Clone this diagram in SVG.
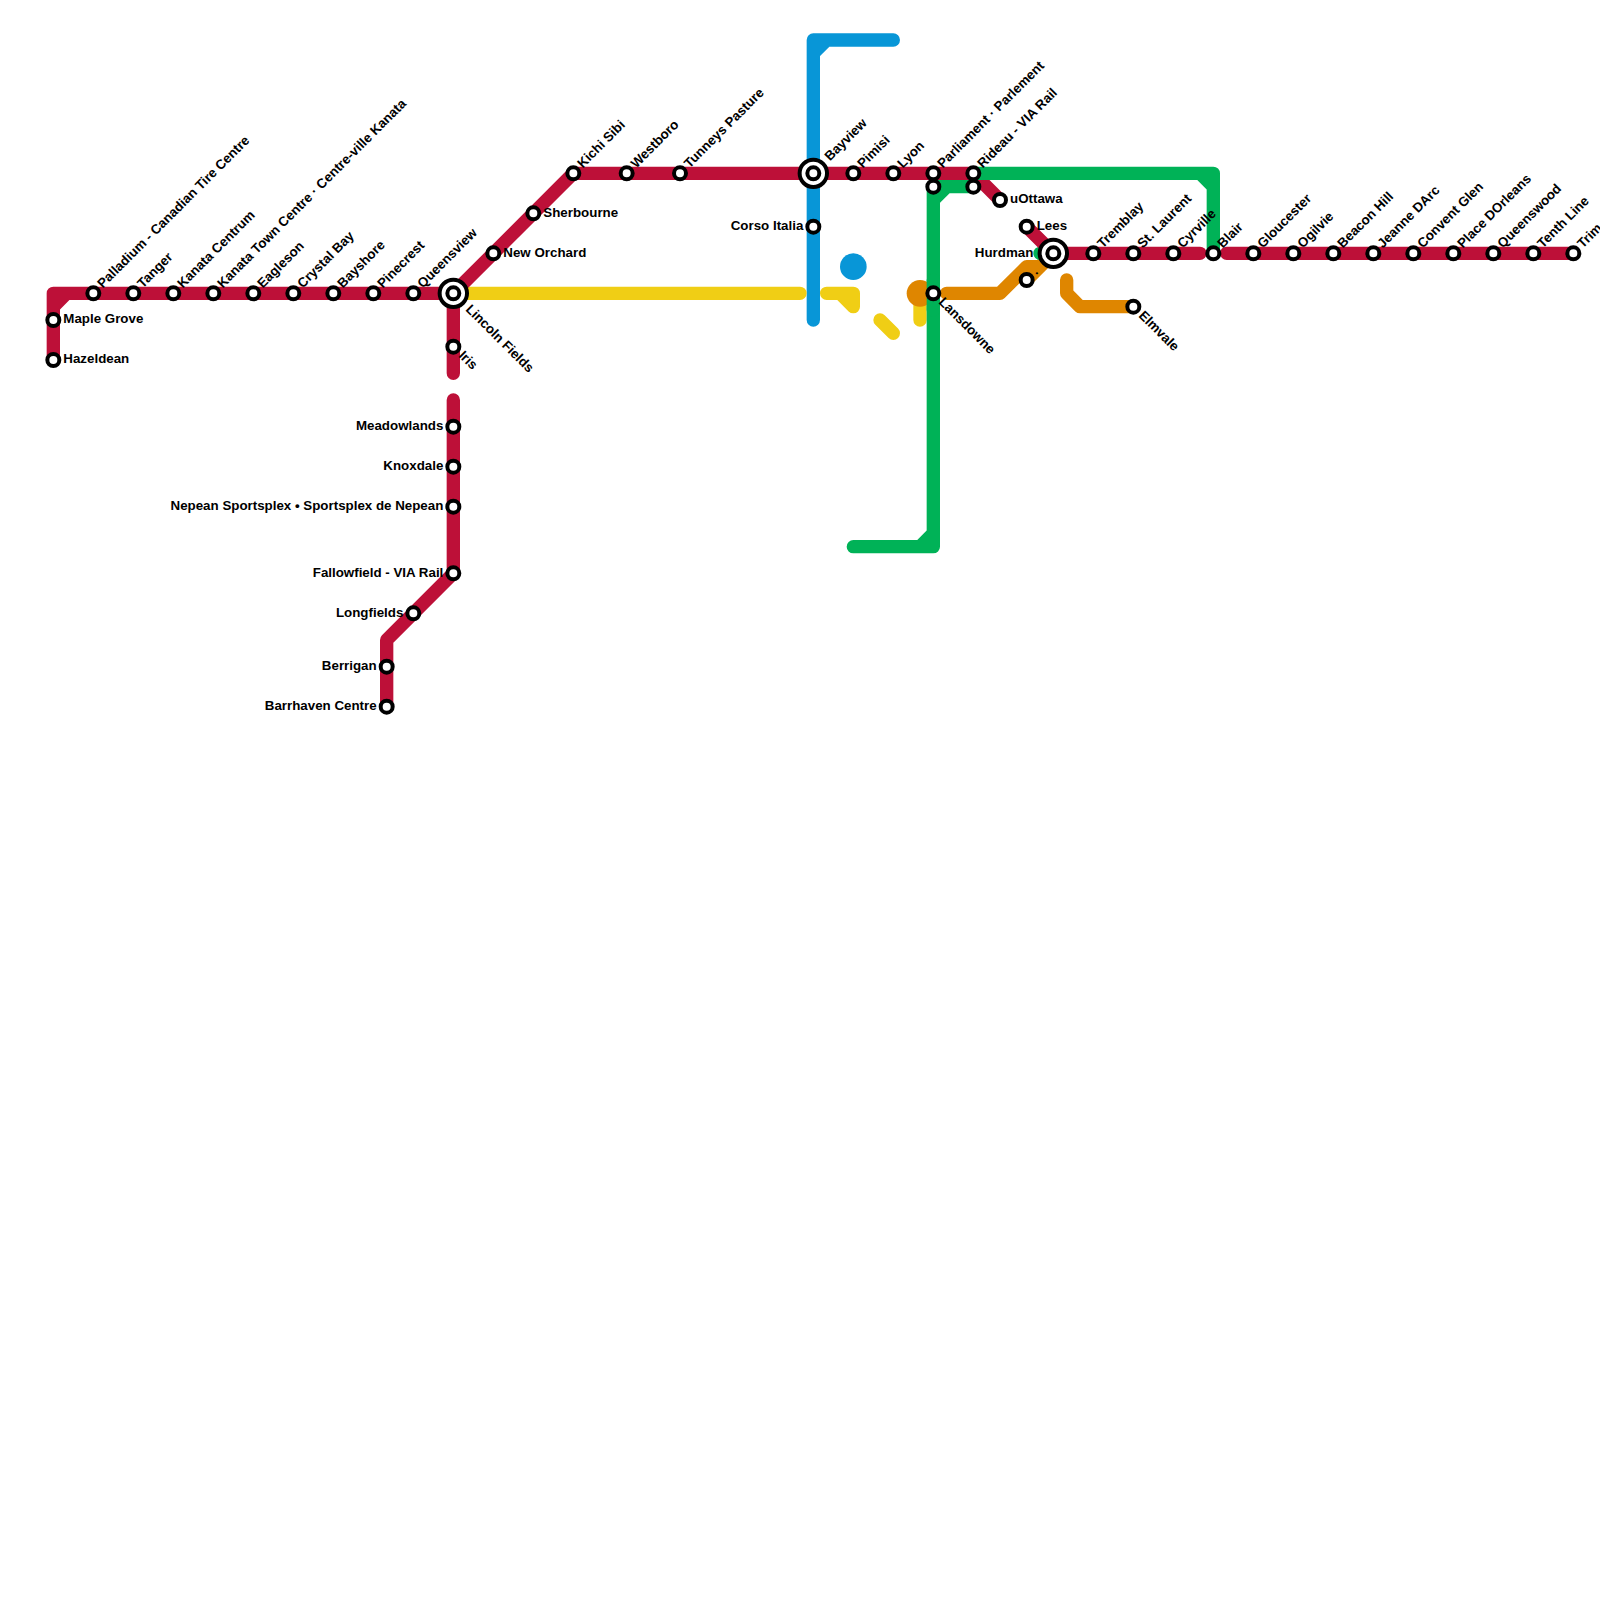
<svg xmlns="http://www.w3.org/2000/svg" width="1600" height="1600" viewBox="0 0 1600 1600">
<style>
.l{fill:none;stroke-width:13.33;stroke-linecap:round;stroke-linejoin:round}
.red{stroke:#bd1038}.green{stroke:#00b257}.blue{stroke:#0896d7}.yellow{stroke:#f0ce15}.orange{stroke:#df8600}
.s{fill:#fff;stroke:#000;stroke-width:4}
text{font-family:"Liberation Sans",Arial,sans-serif;font-weight:bold;font-size:13.33px;fill:#000}
.u{transform:rotate(-45deg)}.d{transform:rotate(45deg)}.e{text-anchor:end}
</style>
<rect width="1600" height="1600" fill="#fff"/>
<g id="connectors">
<path class="l blue" d="M813.33 320V40H893.33M826.67 40L813.33 53.33"/>
<path class="l yellow" d="M453.33 293.33H800M826.67 293.33H853.33V306.67M840 293.33L853.33 306.67M880 320L893.33 333.33M920 293.33V320"/>
<path class="l orange" d="M946.67 293.33H1000L1026.67 266.67H1040M1053.33 253.33L1026.67 280M1066.67 280V293.33L1080 306.67H1133.33"/>
<path class="l red" d="M973.33 173.33L1000 200"/>
<path class="l green" d="M973.33 173.33H1213.33V253.33M1200 173.33L1213.33 186.67M973.33 186.67H933.33V546.67H853.33M946.67 186.67L933.33 200M933.33 533.33L920 546.67M1040 253.33H1053.33"/>
<path class="l red" d="M53.33 360V293.33H453.33L573.33 173.33H973.33M66.67 293.33L53.33 306.67M453.33 293.33V373.33M453.33 400V573.33L386.67 640V706.67M1026.67 226.67L1053.33 253.33H1200M1226.67 253.33H1573.33"/>
<circle cx="853.33" cy="266.67" r="13.33" fill="#0896d7"/>
<circle cx="920" cy="293.33" r="13.33" fill="#df8600"/>
<path class="l green" d="M933.33 280V310"/>
</g>
<g id="hazeldean" transform="translate(53.33,360)"><circle class="s" r="6"/><text x="10" y="3.4">Hazeldean</text></g>
<g id="maple-grove" transform="translate(53.33,320)"><circle class="s" r="6"/><text x="10" y="3.4">Maple Grove</text></g>
<g id="palladium" transform="translate(93.33,293.33)"><circle class="s" r="6"/><text class="u" x="10" y="3.4">Palladium - Canadian Tire Centre</text></g>
<g id="tanger" transform="translate(133.33,293.33)"><circle class="s" r="6"/><text class="u" x="10" y="3.4">Tanger</text></g>
<g id="kanata-centrum" transform="translate(173.33,293.33)"><circle class="s" r="6"/><text class="u" x="10" y="3.4">Kanata Centrum</text></g>
<g id="kanata-town-centre" transform="translate(213.33,293.33)"><circle class="s" r="6"/><text class="u" x="10" y="3.4">Kanata Town Centre · Centre-ville Kanata</text></g>
<g id="eagleson" transform="translate(253.33,293.33)"><circle class="s" r="6"/><text class="u" x="10" y="3.4">Eagleson</text></g>
<g id="crystal-bay" transform="translate(293.33,293.33)"><circle class="s" r="6"/><text class="u" x="10" y="3.4">Crystal Bay</text></g>
<g id="bayshore" transform="translate(333.33,293.33)"><circle class="s" r="6"/><text class="u" x="10" y="3.4">Bayshore</text></g>
<g id="pinecrest" transform="translate(373.33,293.33)"><circle class="s" r="6"/><text class="u" x="10" y="3.4">Pinecrest</text></g>
<g id="queensview" transform="translate(413.33,293.33)"><circle class="s" r="6"/><text class="u" x="10" y="3.4">Queensview</text></g>
<g id="lincoln-fields" transform="translate(453.33,293.33)"><circle class="s" r="13.7"/><circle class="s" r="6"/><text class="d" x="20" y="3.4">Lincoln Fields</text></g>
<g id="iris" transform="translate(453.33,346.67)"><circle class="s" r="6"/><text class="d" x="10" y="3.4">Iris</text></g>
<g id="meadowlands" transform="translate(453.33,426.67)"><circle class="s" r="6"/><text class="e" x="-10" y="3.4">Meadowlands</text></g>
<g id="knoxdale" transform="translate(453.33,466.67)"><circle class="s" r="6"/><text class="e" x="-10" y="3.4">Knoxdale</text></g>
<g id="nepean-sportsplex" transform="translate(453.33,506.67)"><circle class="s" r="6"/><text class="e" x="-10" y="3.4">Nepean Sportsplex • Sportsplex de Nepean</text></g>
<g id="fallowfield" transform="translate(453.33,573.33)"><circle class="s" r="6"/><text class="e" x="-10" y="3.4">Fallowfield - VIA Rail</text></g>
<g id="longfields" transform="translate(413.33,613.33)"><circle class="s" r="6"/><text class="e" x="-10" y="3.4">Longfields</text></g>
<g id="berrigan" transform="translate(386.67,666.67)"><circle class="s" r="6"/><text class="e" x="-10" y="3.4">Berrigan</text></g>
<g id="barrhaven-centre" transform="translate(386.67,706.67)"><circle class="s" r="6"/><text class="e" x="-10" y="3.4">Barrhaven Centre</text></g>
<g id="new-orchard" transform="translate(493.33,253.33)"><circle class="s" r="6"/><text x="10" y="3.4">New Orchard</text></g>
<g id="sherbourne" transform="translate(533.33,213.33)"><circle class="s" r="6"/><text x="10" y="3.4">Sherbourne</text></g>
<g id="kichi-sibi" transform="translate(573.33,173.33)"><circle class="s" r="6"/><text class="u" x="10" y="3.4">Kichi Sibi</text></g>
<g id="westboro" transform="translate(626.67,173.33)"><circle class="s" r="6"/><text class="u" x="10" y="3.4">Westboro</text></g>
<g id="tunneys-pasture" transform="translate(680,173.33)"><circle class="s" r="6"/><text class="u" x="10" y="3.4">Tunneys Pasture</text></g>
<g id="bayview" transform="translate(813.33,173.33)"><circle class="s" r="13.7"/><circle class="s" r="6"/><text class="u" x="20" y="3.4">Bayview</text></g>
<g id="corso-italia" transform="translate(813.33,226.67)"><circle class="s" r="6"/><text class="e" x="-10" y="3.4">Corso Italia</text></g>
<g id="pimisi" transform="translate(853.33,173.33)"><circle class="s" r="6"/><text class="u" x="10" y="3.4">Pimisi</text></g>
<g id="lyon" transform="translate(893.33,173.33)"><circle class="s" r="6"/><text class="u" x="10" y="3.4">Lyon</text></g>
<g id="parliament" transform="translate(933.33,173.33)"><circle class="s" r="6"/><text class="u" x="10" y="3.4">Parliament · Parlement</text></g>
<g id="parliament-2" transform="translate(933.33,186.67)"><circle class="s" r="6"/></g>
<g id="rideau" transform="translate(973.33,173.33)"><circle class="s" r="6"/><text class="u" x="10" y="3.4">Rideau - VIA Rail</text></g>
<g id="rideau-2" transform="translate(973.33,186.67)"><circle class="s" r="6"/></g>
<g id="uottawa" transform="translate(1000,200)"><circle class="s" r="6"/><text x="10" y="3.4">uOttawa</text></g>
<g id="lees" transform="translate(1026.67,226.67)"><circle class="s" r="6"/><text x="10" y="3.4">Lees</text></g>
<g id="dot-station" transform="translate(1026.67,280)"><circle class="s" r="6"/><text class="u" x="10" y="3.4">.</text></g>
<g id="lansdowne" transform="translate(933.33,293.33)"><circle class="s" r="6"/><text class="d" x="10" y="3.4">Lansdowne</text></g>
<g id="hurdman" transform="translate(1053.33,253.33)"><circle class="s" r="13.7"/><circle class="s" r="6"/><text class="e" x="-20" y="3.4">Hurdman</text></g>
<g id="elmvale" transform="translate(1133.33,306.67)"><circle class="s" r="6"/><text class="d" x="10" y="3.4">Elmvale</text></g>
<g id="tremblay" transform="translate(1093.33,253.33)"><circle class="s" r="6"/><text class="u" x="10" y="3.4">Tremblay</text></g>
<g id="st-laurent" transform="translate(1133.33,253.33)"><circle class="s" r="6"/><text class="u" x="10" y="3.4">St. Laurent</text></g>
<g id="cyrville" transform="translate(1173.33,253.33)"><circle class="s" r="6"/><text class="u" x="10" y="3.4">Cyrville</text></g>
<g id="blair" transform="translate(1213.33,253.33)"><circle class="s" r="6"/><text class="u" x="10" y="3.4">Blair</text></g>
<g id="gloucester" transform="translate(1253.33,253.33)"><circle class="s" r="6"/><text class="u" x="10" y="3.4">Gloucester</text></g>
<g id="ogilvie" transform="translate(1293.33,253.33)"><circle class="s" r="6"/><text class="u" x="10" y="3.4">Ogilvie</text></g>
<g id="beacon-hill" transform="translate(1333.33,253.33)"><circle class="s" r="6"/><text class="u" x="10" y="3.4">Beacon Hill</text></g>
<g id="jeanne-darc" transform="translate(1373.33,253.33)"><circle class="s" r="6"/><text class="u" x="10" y="3.4">Jeanne DArc</text></g>
<g id="convent-glen" transform="translate(1413.33,253.33)"><circle class="s" r="6"/><text class="u" x="10" y="3.4">Convent Glen</text></g>
<g id="place-dorleans" transform="translate(1453.33,253.33)"><circle class="s" r="6"/><text class="u" x="10" y="3.4">Place DOrleans</text></g>
<g id="queenswood" transform="translate(1493.33,253.33)"><circle class="s" r="6"/><text class="u" x="10" y="3.4">Queenswood</text></g>
<g id="tenth-line" transform="translate(1533.33,253.33)"><circle class="s" r="6"/><text class="u" x="10" y="3.4">Tenth Line</text></g>
<g id="trim" transform="translate(1573.33,253.33)"><circle class="s" r="6"/><text class="u" x="10" y="3.4">Trim</text></g>
</svg>
